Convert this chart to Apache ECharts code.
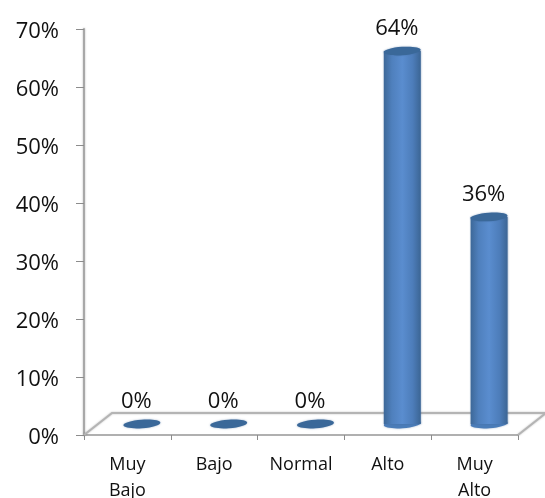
<!DOCTYPE html>
<html><head><meta charset="utf-8">
<style>html,body{margin:0;padding:0;background:#fff}#c{width:545px;height:498px}</style>
<script src="https://cdn.jsdelivr.net/npm/echarts@6/dist/echarts.min.js"></script>
</head><body><div id="c"></div>
<script>
const categories = ['Muy\nBajo', 'Bajo', 'Normal', 'Alto', 'Muy\nAlto'];
const values = [0, 0, 0, 64.3, 35.7];
const valueLabels = ['0%', '0%', '0%', '64%', '36%'];
const yTicks = [0, 10, 20, 30, 40, 50, 60, 70];

const FONT = '"Open Sans"';
const DX = 14.5, DY = -11, RX = 18.5, RY = 4.2, DEPTH_X = 28, DEPTH_Y = -22;
const chart = echarts.init(document.getElementById('c'));

function renderFloor(params, api) {
  const c = params.coordSys;
  const b = c.y + c.height, l = c.x, r = c.x + c.width;
  return {
    type: 'polyline', silent: true,
    shape: { points: [[l, b], [l + DEPTH_X, b + DEPTH_Y], [r + DEPTH_X, b + DEPTH_Y], [r, b]] },
    style: { fill: null, stroke: '#b4b4b4', lineWidth: 2, shadowBlur: 2, shadowColor: 'rgba(0,0,0,0.25)' }
  };
}

function renderBar(params, api) {
  const i = api.value(0);
  const top = api.coord([i, api.value(1)]);
  const base = api.coord([i, 0]);
  const cx = top[0] + DX, yTop = top[1] + DY, yBase = base[1] + DY;
  const children = [];
  const tilt = 0.07;
  const ell = (y, fill) => ({
    type: 'ellipse', silent: true, x: cx, y: y, rotation: tilt,
    shape: { cx: 0, cy: 0, rx: RX, ry: RY },
    style: { fill: fill, shadowBlur: 2, shadowColor: 'rgba(60,100,150,0.5)' }
  });
  if (api.value(1) > 0) {
    children.push(ell(yBase, '#4a7cb8'));
    children.push({
      type: 'rect', silent: true,
      shape: { x: cx - RX, y: yTop, width: RX * 2, height: yBase - yTop },
      style: {
        fill: new echarts.graphic.LinearGradient(0, 0, 1, 0, [
          { offset: 0, color: '#3d6898' },
          { offset: 0.22, color: '#4f80bd' },
          { offset: 0.5, color: '#5a8dcf' },
          { offset: 0.78, color: '#4d7dba' },
          { offset: 1, color: '#3b6594' }
        ]),
        shadowBlur: 2, shadowColor: 'rgba(60,100,150,0.5)'
      }
    });
  }
  children.push(ell(yTop, '#3a6899'));
  children.push({
    type: 'text', silent: true,
    style: {
      x: top[0] + 9, y: top[1] - 33,
      text: valueLabels[i], fill: '#111', font: '22px ' + FONT,
      align: 'center', verticalAlign: 'middle'
    }
  });
  return { type: 'group', children };
}

chart.setOption({
  animation: false,
  backgroundColor: '#fff',
  grid: { left: 84, top: 29, width: 434, height: 406, outerBoundsMode: 'none' },
  xAxis: {
    type: 'category', data: categories,
    axisLine: { lineStyle: { color: '#b0b0b0', width: 2 } },
    axisTick: { show: true, length: 5, lineStyle: { color: '#8c8c8c', width: 1 } },
    axisLabel: { color: '#111', fontFamily: FONT, fontSize: 18, lineHeight: 26, margin: 17, interval: 0 }
  },
  yAxis: {
    type: 'value', min: yTicks[0], max: yTicks[yTicks.length - 1], interval: yTicks[1] - yTicks[0],
    splitLine: { show: false },
    axisLine: { show: true, lineStyle: { color: '#a8a8a8', width: 2, shadowBlur: 2, shadowColor: 'rgba(0,0,0,0.3)' } },
    axisTick: { show: true, length: 8, lineStyle: { color: '#8c8c8c', width: 1 } },
    axisLabel: { color: '#111', fontFamily: FONT, fontSize: 22, margin: 25, verticalAlign: 'top', lineHeight: 6, formatter: '{value}%' }
  },
  series: [
    { type: 'custom', clip: false, silent: true, data: [[0, 0]], renderItem: renderFloor, z: 1 },
    { type: 'custom', clip: false, silent: true, encode: { x: 0, y: 1 },
      data: values.map((v, i) => [i, v]), renderItem: renderBar, z: 3 }
  ]
});
</script></body></html>
